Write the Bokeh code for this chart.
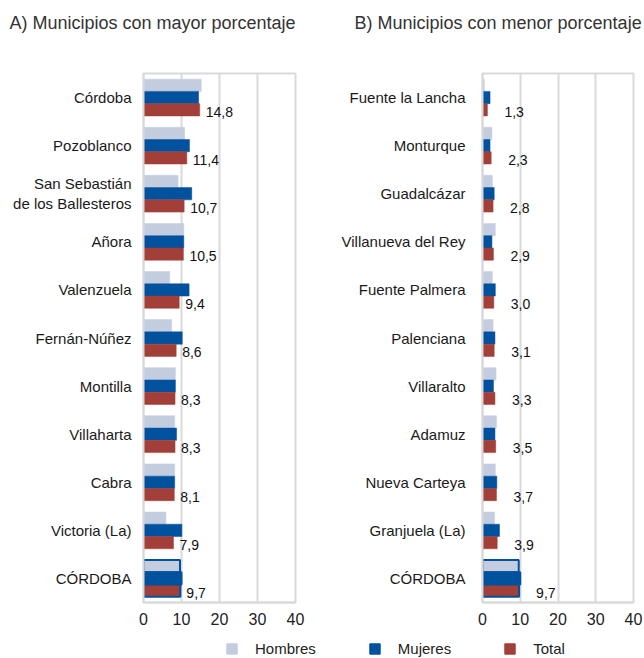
from bokeh.plotting import figure
from bokeh.models import (ColumnDataSource, FactorRange, Range1d, FixedTicker, Label,
                          Legend, LegendItem)
from bokeh.layouts import row, column
from bokeh.transform import dodge
from bokeh.embed import file_html
from bokeh.resources import INLINE

# ---------------- data ----------------
A_title = "A) Municipios con mayor porcentaje"
A_cats = ["Córdoba", "Pozoblanco", "San Sebastián\nde los Ballesteros", "Añora",
          "Valenzuela", "Fernán-Núñez", "Montilla", "Villaharta", "Cabra",
          "Victoria (La)", "CÓRDOBA"]
A_hombres = [15.2, 10.8, 9.1, 10.6, 6.9, 7.4, 8.4, 8.2, 8.2, 5.9, 9.6]
A_mujeres = [14.5, 12.1, 12.7, 10.6, 12.0, 10.2, 8.4, 8.7, 8.2, 10.1, 10.0]
A_total = [14.8, 11.4, 10.7, 10.5, 9.4, 8.6, 8.3, 8.3, 8.1, 7.9, 9.7]

B_title = "B) Municipios con menor porcentaje"
B_cats = ["Fuente la Lancha", "Monturque", "Guadalcázar", "Villanueva del Rey",
          "Fuente Palmera", "Palenciana", "Villaralto", "Adamuz", "Nueva Carteya",
          "Granjuela (La)", "CÓRDOBA"]
B_hombres = [0.5, 2.5, 2.6, 3.4, 2.6, 2.8, 3.6, 3.7, 3.4, 3.2, 9.6]
B_mujeres = [2.0, 2.0, 3.1, 2.5, 3.4, 3.3, 2.9, 3.3, 3.8, 4.5, 10.0]
B_total = [1.3, 2.3, 2.8, 2.9, 3.0, 3.1, 3.3, 3.5, 3.7, 3.9, 9.7]

x_ticks = [0, 10, 20, 30, 40]
series_names = ["Hombres", "Mujeres", "Total"]
highlight = "CÓRDOBA"

# ---------------- style ----------------
C_H = "#c4cce0"
C_M = "#00519e"
C_T = "#a23f38"
GRID = "#d9d9d9"
FONT = "Liberation Sans"
BAR_H = 0.255
TITLE_H = 45


def blank_fig(width, height):
    f = figure(width=width, height=height, output_backend="svg",
               toolbar_location=None, x_range=Range1d(0, width),
               y_range=Range1d(0, height), min_border=0,
               x_axis_location=None, y_axis_location=None)
    f.grid.visible = False
    f.outline_line_color = None
    return f


def title_fig(text, width, x):
    f = blank_fig(width, TITLE_H)
    f.add_layout(Label(x=x, y=TITLE_H - 22, text=text, text_align="left",
                       text_baseline="middle", text_font=FONT,
                       text_font_size="18px", text_color="#333333"))
    return f


def make_panel(cats, hom, muj, tot, width, min_left, min_right,
               lbl_off, cat_standoff):
    yr = FactorRange(factors=list(reversed(cats)))
    p = figure(width=width, height=634 - TITLE_H, y_range=yr, x_range=Range1d(0, 40),
               output_backend="svg", toolbar_location=None,
               min_border_left=min_left, min_border_right=min_right,
               min_border_top=73 - TITLE_H, min_border_bottom=32)

    def lc(color):
        return [C_M if c == highlight else color for c in cats]

    src = ColumnDataSource(dict(
        cat=cats, h=hom, m=muj, t=tot,
        hl=lc(C_H), ml=lc(C_M), tl=lc(C_T),
        lw=[2 if c == highlight else 0.5 for c in cats],
        lab=[f"{v:.1f}".replace(".", ",") for v in tot],
    ))
    p.hbar(y=dodge("cat", BAR_H, range=yr), left=0, right="h", height=BAR_H,
           source=src, fill_color=C_H, line_color="hl", line_width="lw")
    p.hbar(y=dodge("cat", 0, range=yr), left=0, right="m", height=BAR_H,
           source=src, fill_color=C_M, line_color="ml", line_width="lw")
    p.hbar(y=dodge("cat", -BAR_H, range=yr), left=0, right="t", height=BAR_H,
           source=src, fill_color=C_T, line_color="tl", line_width="lw")
    p.text(x="t", y=dodge("cat", -BAR_H, range=yr), text="lab", source=src,
           x_offset=lbl_off, y_offset=2, text_baseline="middle", text_align="left",
           text_font_size="14px", text_font={"value": FONT}, text_color="#111111")

    # axes
    p.xaxis.ticker = FixedTicker(ticks=x_ticks)
    p.xaxis.major_tick_line_color = None
    p.xaxis.minor_tick_line_color = None
    p.xaxis.axis_line_color = GRID
    p.xaxis.axis_line_width = 2
    p.xaxis.major_label_standoff = 4
    p.xaxis.major_label_text_font = FONT
    p.xaxis.major_label_text_font_size = "16px"
    p.xaxis.major_label_text_color = "#222222"

    p.yaxis.major_tick_line_color = None
    p.yaxis.minor_tick_line_color = None
    p.yaxis.axis_line_color = GRID
    p.yaxis.axis_line_width = 2
    p.yaxis.major_label_standoff = cat_standoff
    p.yaxis.major_label_text_font = FONT
    p.yaxis.major_label_text_font_size = "15px"
    p.yaxis.major_label_text_color = "#1a1a1a"
    p.yaxis.major_label_overrides = {highlight: " "}

    p.add_layout(Label(x=0, y=0.5, x_offset=-cat_standoff - 1, text=highlight,
                       text_align="right", text_baseline="middle",
                       text_font=FONT, text_font_size="15px",
                       text_font_style="bold", text_color="#111111"))

    p.xgrid.grid_line_color = GRID
    p.xgrid.grid_line_width = 2
    p.ygrid.grid_line_color = None
    p.outline_line_color = GRID
    p.outline_line_width = 2
    return p


tA = title_fig(A_title, 338, 9)
tB = title_fig(B_title, 306, 16)
pA = make_panel(A_cats, A_hombres, A_mujeres, A_total,
                width=338, min_left=143, min_right=43, lbl_off=6, cat_standoff=6)
pB = make_panel(B_cats, B_hombres, B_mujeres, B_total,
                width=306, min_left=144, min_right=11, lbl_off=17, cat_standoff=11)

# ---------------- legend strip ----------------
pl = blank_fig(644, 24)
items = []
for name, col in zip(series_names, [C_H, C_M, C_T]):
    r = pl.hbar(y=[-10], right=[-5], left=[-6], height=0.5,
                fill_color=col, line_color=col)
    items.append(LegendItem(label=name, renderers=[r]))
leg = Legend(items=items, orientation="horizontal", location=(225, 1),
             glyph_width=13, glyph_height=13, label_standoff=17, spacing=52,
             padding=0, margin=0, border_line_color=None,
             background_fill_alpha=0,
             label_text_font=FONT, label_text_font_size="15px",
             label_text_color="#222222", label_height=13)
pl.add_layout(leg)

layout = column(row(tA, tB, spacing=0), row(pA, pB, spacing=0), pl, spacing=0)

open("out.html", "w").write(file_html(layout, INLINE))
